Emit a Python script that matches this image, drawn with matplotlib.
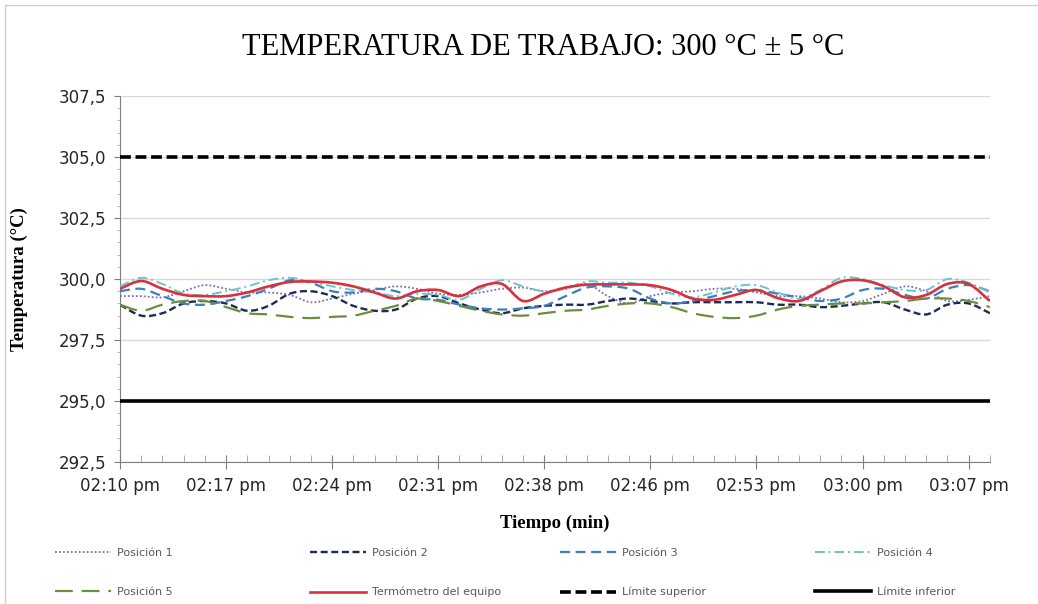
"""Temperatura de trabajo 300 °C ± 5 °C: lecturas por posición vs termómetro."""
import matplotlib

matplotlib.use("Agg")
import matplotlib.pyplot as plt
from matplotlib.lines import Line2D
from matplotlib.patches import PathPatch
from matplotlib.path import Path
import numpy as np

matplotlib.rcParams.update({
    "font.family": "DejaVu Sans",
    "font.size": 12,
    "axes.edgecolor": "#7f7f7f",
    "axes.spines.top": False,
    "axes.spines.right": False,
})

# ---- data ----
X_LABELS = ["02:10 pm", "02:17 pm", "02:24 pm", "02:31 pm", "02:38 pm",
            "02:46 pm", "02:53 pm", "03:00 pm", "03:07 pm"]
Y_TICKS = [292.5, 295.0, 297.5, 300.0, 302.5, 305.0, 307.5]
Y_LABELS = ["292,5", "295,0", "297,5", "300,0", "302,5", "305,0", "307,5"]

pos1 = [299.3, 299.3, 299.25, 299.5, 299.75, 299.6, 299.45, 299.45, 299.35, 299.05,
        299.2, 299.4, 299.55, 299.7, 299.6, 299.4, 299.35, 299.45, 299.6, 299.65,
        299.5, 299.6, 299.8, 299.3, 299.0, 299.3, 299.45, 299.5, 299.6, 299.6,
        299.45, 299.3, 299.3, 299.2, 299.05, 299.1, 299.4, 299.7, 299.5, 299.1,
        299.15, 299.3]
pos2 = [298.95, 298.5, 298.6, 299.0, 299.1, 299.0, 298.7, 298.9, 299.4, 299.5,
        299.3, 298.9, 298.7, 298.75, 299.2, 299.3, 299.0, 298.75, 298.6, 298.8,
        298.9, 298.95, 298.95, 299.1, 299.2, 299.1, 299.0, 299.05, 299.05, 299.05,
        299.05, 298.95, 298.95, 298.85, 298.9, 299.0, 299.05, 298.75, 298.55, 298.95,
        299.0, 298.6]
pos3 = [299.5, 299.6, 299.3, 299.0, 298.95, 299.1, 299.3, 299.6, 299.95, 299.85,
        299.5, 299.45, 299.6, 299.5, 299.2, 299.15, 298.95, 298.8, 298.75, 298.8,
        298.9, 299.3, 299.65, 299.7, 299.6, 299.2, 299.0, 299.1, 299.3, 299.5,
        299.55, 299.4, 299.25, 299.1, 299.2, 299.55, 299.6, 299.35, 299.2, 299.6,
        299.75, 299.5]
pos4 = [299.7, 300.05, 299.8, 299.4, 299.35, 299.5, 299.7, 299.95, 300.05, 299.9,
        299.7, 299.55, 299.45, 299.3, 299.4, 299.35, 299.15, 299.6, 299.95, 299.7,
        299.5, 299.6, 299.9, 299.85, 299.85, 299.7, 299.4, 299.25, 299.45, 299.7,
        299.75, 299.45, 299.2, 299.55, 300.05, 300.0, 299.75, 299.55, 299.55, 300.0,
        299.85, 299.45]
pos5 = [298.95, 298.7, 298.95, 299.1, 299.1, 298.85, 298.6, 298.55, 298.45, 298.4,
        298.45, 298.5, 298.7, 298.9, 299.2, 299.1, 298.9, 298.7, 298.55, 298.5,
        298.6, 298.7, 298.75, 298.9, 299.0, 299.0, 298.85, 298.6, 298.45, 298.4,
        298.5, 298.75, 298.9, 298.95, 299.0, 299.0, 299.05, 299.1, 299.2, 299.2,
        299.1, 298.85]
termometro = [299.6, 299.92, 299.6, 299.35, 299.3, 299.3, 299.45, 299.7, 299.88, 299.9,
              299.85, 299.7, 299.45, 299.2, 299.5, 299.55, 299.3, 299.7, 299.8, 299.1,
              299.4, 299.65, 299.77, 299.78, 299.78, 299.75, 299.55, 299.2, 299.15, 299.35,
              299.55, 299.22, 299.1, 299.5, 299.9, 299.95, 299.7, 299.25, 299.35, 299.8,
              299.8, 299.1]
LIMITE_SUP = 305.0
LIMITE_INF = 295.0

SERIES = [
    ("Posición 1", pos1, dict(color="#7e6cb8", lw=1.3, ls=(0, (1, 1.2)))),
    ("Posición 2", pos2, dict(color="#1d2b55", lw=1.7, ls=(0, (3, 1.5)))),
    ("Posición 3", pos3, dict(color="#3b80b8", lw=1.6, ls=(0, (4.5, 2.5)))),
    ("Posición 4", pos4, dict(color="#6cc3cc", lw=1.4, ls=(0, (5, 2, 1, 2)))),
    ("Posición 5", pos5, dict(color="#6b8e3e", lw=1.6, ls=(0, (8, 4)))),
    ("Termómetro del equipo", termometro, dict(color="#d9303c", lw=1.9, ls="-")),
]
LIM_STYLE_SUP = dict(color="black", lw=2.6, ls=(0, (3, 1.3)))
LIM_STYLE_INF = dict(color="black", lw=2.6, ls="-")


def smooth_path(x, y):
    """Excel-like smoothed line: Catmull-Rom segments as cubic Bezier curves."""
    pts = np.column_stack([x, y])
    ext = np.vstack([pts[0], pts, pts[-1]])
    verts = [pts[0]]
    codes = [Path.MOVETO]
    for i in range(1, len(ext) - 2):
        p0, p1, p2, p3 = ext[i - 1], ext[i], ext[i + 1], ext[i + 2]
        verts += [p1 + (p2 - p0) / 6, p2 - (p3 - p1) / 6, p2]
        codes += [Path.CURVE4] * 3
    return Path(verts, codes)


def main():
    fig = plt.figure(figsize=(10.38, 6.04), dpi=100)
    ax = fig.add_axes([0.1156, 0.235, 0.838, 0.606])

    n = len(termometro)
    x = np.arange(n)
    for label, vals, st in SERIES:
        ax.add_patch(PathPatch(smooth_path(x, vals), fill=False,
                               edgecolor=st["color"], lw=st["lw"],
                               linestyle=st["ls"], zorder=3))
    ax.axhline(LIMITE_SUP, **LIM_STYLE_SUP, zorder=4)
    ax.axhline(LIMITE_INF, **LIM_STYLE_INF, zorder=4)

    ax.set_xlim(0, n - 1)
    ax.set_ylim(Y_TICKS[0], Y_TICKS[-1])
    ax.set_yticks(Y_TICKS)
    ax.set_yticklabels(Y_LABELS)
    ax.set_yticks(np.arange(292.5, 307.6, 0.5), minor=True)
    ax.set_xticks(np.arange(0, 5 * len(X_LABELS), 5))
    ax.set_xticklabels(X_LABELS)
    ax.set_xticks(np.arange(0, n), minor=True)
    ax.grid(True, axis="y", color="#d9d9d9", lw=1.0, zorder=0)
    ax.tick_params(axis="y", which="major", length=4, color="#7f7f7f", pad=6)
    ax.tick_params(axis="y", which="minor", length=2.5, color="#aaaaaa")
    ax.tick_params(axis="x", which="major", direction="inout", length=10,
                   color="#7f7f7f", pad=6)
    ax.tick_params(axis="x", which="minor", direction="in", length=5,
                   color="#9a9a9a")
    ax.tick_params(labelsize=12, labelcolor="#262626")

    fig.text(0.523, 0.922, "TEMPERATURA DE TRABAJO: 300 °C ± 5 °C",
             family="Liberation Serif", fontsize=22, ha="center", va="center")
    ax.set_xlabel("Tiempo (min)", family="Liberation Serif", fontweight="bold",
                  fontsize=13.5, labelpad=14)
    ax.set_ylabel("Temperatura (°C)", family="Liberation Serif", fontweight="bold",
                  fontsize=13.5, labelpad=22)

    # legend: four columns, two rows
    handles = [Line2D([], [], color=st["color"], lw=st["lw"], ls=st["ls"])
               for _, _, st in SERIES]
    handles += [Line2D([], [], **LIM_STYLE_SUP), Line2D([], [], **LIM_STYLE_INF)]
    labels = [s[0] for s in SERIES] + ["Límite superior", "Límite inferior"]
    columns = [(0, 4), (1, 5), (2, 6), (3, 7)]
    col_x = [55, 310, 560, 815]
    for (a, b), cx in zip(columns, col_x):
        fig.legend([handles[a], handles[b]], [labels[a], labels[b]],
                   loc="upper left", bbox_to_anchor=(cx / 1038, 1 - 548 / 604),
                   frameon=False, fontsize=8, handlelength=5, handletextpad=0.6,
                   labelspacing=2.6, borderpad=0, borderaxespad=0,
                   labelcolor="#595959")

    # chart frame (top and left edges visible in the crop)
    fig.add_artist(Line2D([5 / 1038, 1], [1 - 5 / 604, 1 - 5 / 604],
                          transform=fig.transFigure, color="#cfcfcf", lw=1))
    fig.add_artist(Line2D([5 / 1038, 5 / 1038], [0, 1 - 5 / 604],
                          transform=fig.transFigure, color="#cfcfcf", lw=1))

    fig.savefig("out.png", dpi=100)
    plt.close(fig)


if __name__ == "__main__":
    main()
